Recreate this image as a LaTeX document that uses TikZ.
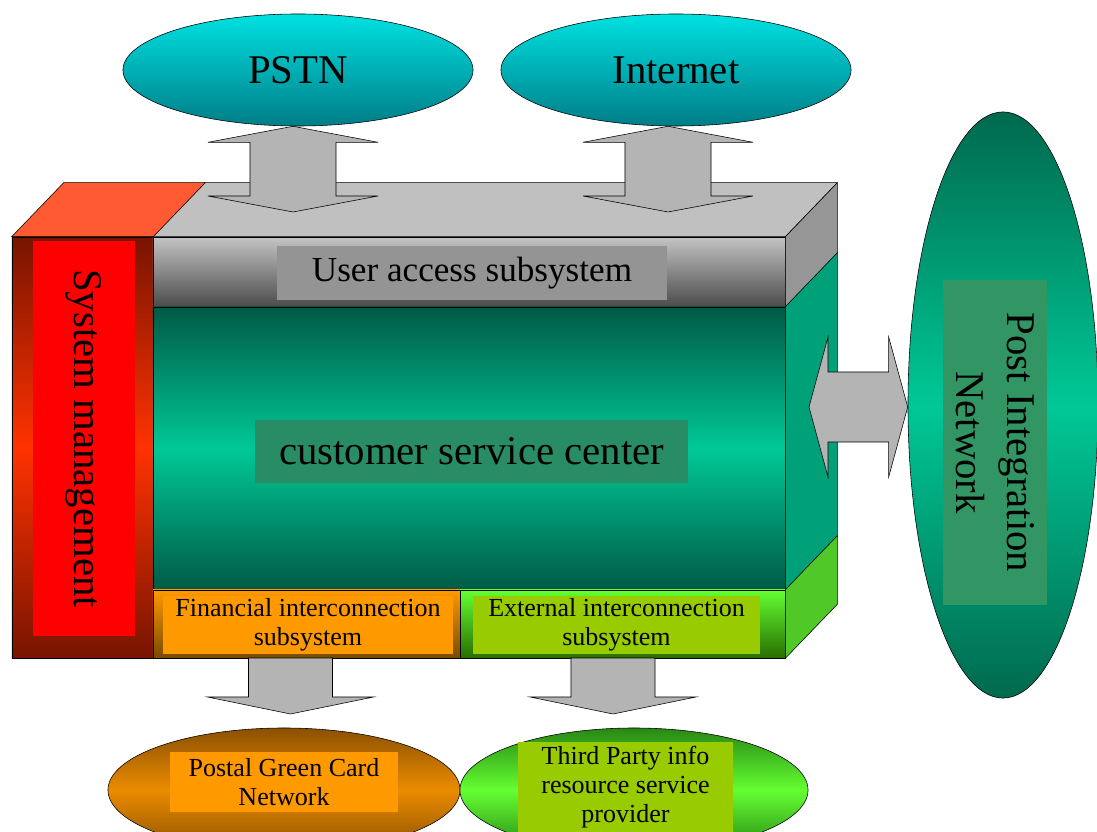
\documentclass[tikz,border=0pt]{standalone}
\usepackage{fontspec}
\setmainfont{Liberation Serif}
\usetikzlibrary{shapes.geometric,calc,positioning}
\newcommand{\px}{0.71132pt}
\definecolor{smDark}{RGB}{120,20,0}
\definecolor{smLight}{RGB}{255,50,0}
\definecolor{smTop}{RGB}{255,90,50}
\definecolor{smLabel}{RGB}{255,0,0}
\definecolor{uasLight}{RGB}{195,195,195}
\definecolor{uasDark}{RGB}{75,75,75}
\definecolor{uasTop}{RGB}{192,192,192}
\definecolor{uasSide}{RGB}{150,150,150}
\definecolor{uasLabel}{RGB}{148,148,148}
\definecolor{cscDark}{RGB}{0,90,70}
\definecolor{cscLight}{RGB}{0,200,150}
\definecolor{cscSide}{RGB}{0,160,120}
\definecolor{cscLabel}{RGB}{40,140,100}
\definecolor{finOrange}{RGB}{255,153,0}
\definecolor{finDark}{RGB}{120,75,0}
\definecolor{extLight}{RGB}{100,255,50}
\definecolor{extDark}{RGB}{40,110,0}
\definecolor{extSide}{RGB}{80,200,40}
\definecolor{extLabel}{RGB}{153,204,0}
\definecolor{netCyan}{RGB}{0,225,225}
\definecolor{netTeal}{RGB}{0,125,135}
\definecolor{pinDark}{RGB}{0,105,78}
\definecolor{pinLabel}{RGB}{50,150,100}
\definecolor{pgDark}{RGB}{140,80,0}
\definecolor{pgLight}{RGB}{235,140,0}
\definecolor{tpDark}{RGB}{40,135,20}
\definecolor{arrowGray}{RGB}{180,180,180}
\tikzset{
	boxsize/.style 2 args={minimum width=#1*\px,minimum height=#2*\px},
	face/.style={draw,thin,rectangle,inner sep=0pt},
	labelbox/.style={rectangle,inner sep=0pt,align=center},
	netoval/.style={ellipse,draw,thin,inner sep=0pt},
	bigtext/.style={font=\fontsize{29}{36}\selectfont},
	midtext/.style={font=\fontsize{25}{30}\selectfont},
	smalltext/.style={font=\fontsize{18.5}{20.5}\selectfont},
	blockarrow/.style={draw,thin,fill=arrowGray},
}
% double block arrow, vertical: top end, bottom end
\newcommand{\dblarrowV}[2]{%
	\draw[blockarrow] let \p1=#1, \p2=#2 in
		(\x1,\y1) -- (\x1+85*\px,\y1-16*\px) -- (\x1+43*\px,\y1-16*\px)
		-- (\x1+43*\px,\y2+16*\px) -- (\x1+85*\px,\y2+16*\px) -- (\x1,\y2)
		-- (\x1-85*\px,\y2+16*\px) -- (\x1-43*\px,\y2+16*\px)
		-- (\x1-43*\px,\y1-16*\px) -- (\x1-85*\px,\y1-16*\px) -- cycle;}
% double block arrow, horizontal: left end, right end
\newcommand{\dblarrowH}[2]{%
	\draw[blockarrow] let \p1=#1, \p2=#2 in
		(\x1,\y1) -- (\x1+19*\px,\y1+70*\px) -- (\x1+19*\px,\y1+35*\px)
		-- (\x2-19*\px,\y1+35*\px) -- (\x2-19*\px,\y1+70*\px) -- (\x2,\y1)
		-- (\x2-19*\px,\y1-70*\px) -- (\x2-19*\px,\y1-35*\px)
		-- (\x1+19*\px,\y1-35*\px) -- (\x1+19*\px,\y1-70*\px) -- cycle;}
% single block arrow pointing down: start, tip
\newcommand{\blockdown}[2]{%
	\draw[blockarrow] let \p1=#1, \p2=#2 in
		(\x1-42*\px,\y1) -- (\x1+42*\px,\y1) -- (\x1+42*\px,\y2+17*\px)
		-- (\x1+83*\px,\y2+17*\px) -- (\x1,\y2) -- (\x1-83*\px,\y2+17*\px)
		-- (\x1-42*\px,\y2+17*\px) -- cycle;}
\begin{document}
\begin{tikzpicture}[x=0.025cm,y=-0.025cm]
	\useasboundingbox (0,0) rectangle (1097,832);
	\clip (0,0) rectangle (1097,832);

	% networks
	\node (PSTN) at (298,70) [netoval,boxsize={350}{112},top color=netCyan,bottom color=netTeal,bigtext] {PSTN};
	\node (inet) at (676,70) [netoval,boxsize={350}{112},top color=netCyan,bottom color=netTeal,bigtext] {Internet};
	\node (pin) at (1003,405) [netoval,boxsize={190}{586},top color=pinDark,bottom color=pinDark,middle color=cscLight] {};
	\node (pinlabel) at (995,442.5) [labelbox,rotate=-90,boxsize={325}{104},fill=pinLabel,bigtext] {Post Integration\\Network};
	\node (pgcn) at (284,790) [netoval,boxsize={352}{124},top color=pgDark,bottom color=pgDark,middle color=pgLight] {};
	\node (pgcnlabel) at (284,782) [labelbox,boxsize={228}{60},fill=finOrange,smalltext] {Postal Green Card\\Network};
	\node (tpi) at (634,790) [netoval,boxsize={348}{124},top color=tpDark,bottom color=tpDark,middle color=extLight] {};
	\node (tpilabel) at (625.5,787) [labelbox,boxsize={215}{90},fill=extLabel,smalltext] {Third Party info\\resource service\\provider};

	% front faces
	\node (smfront) at (82.5,447.5) [face,boxsize={141}{421},top color=smDark,bottom color=smDark,middle color=smLight] {};
	\node (uasfront) at (469,272) [face,boxsize={632}{70},top color=uasLight,bottom color=uasDark] {};
	\node (cscfront) at (469,448.5) [face,boxsize={632}{283},top color=cscDark,bottom color=cscDark,middle color=cscLight] {};
	\node (finfront) at (306.5,624) [face,boxsize={307}{68},top color=finOrange,bottom color=finDark] {};
	\node (extfront) at (622.5,624) [face,boxsize={325}{68},top color=extLight,bottom color=extDark] {};

	% top and side faces
	\draw[thin,fill=uasTop] (uasfront.north west) -- ++(52,-54) -- ($(uasfront.north east)+(52,-54)$) -- (uasfront.north east) -- cycle;
	\draw[thin,fill=smTop] (smfront.north west) -- ++(52,-54) -- ($(smfront.north east)+(52,-54)$) -- (smfront.north east) -- cycle;
	\draw[thin,fill=uasSide] (uasfront.north east) -- ++(52,-54) -- ($(uasfront.south east)+(52,-54)$) -- (uasfront.south east) -- cycle;
	\draw[thin,fill=cscSide] (cscfront.north east) -- ++(52,-54) -- ($(cscfront.south east)+(52,-54)$) -- (cscfront.south east) -- cycle;
	\draw[thin,fill=extSide] (extfront.north east) -- ++(52,-54) -- ($(extfront.south east)+(52,-54)$) -- (extfront.south east) -- cycle;

	% labels
	\node (smlabel) at (84,438.5) [labelbox,rotate=-90,boxsize={395}{102},fill=smLabel,bigtext] {System management};
	\node (uaslabel) at (472,273) [labelbox,boxsize={390}{54},fill=uasLabel,midtext] {User access subsystem};
	\node (csclabel) at (471.5,451.5) [labelbox,boxsize={433}{63},fill=cscLabel,bigtext] {customer service center};
	\node (finlabel) at (308,625) [labelbox,boxsize={290}{58},fill=finOrange,smalltext] {Financial interconnection\\subsystem};
	\node (extlabel) at (616.5,625) [labelbox,boxsize={287}{58},fill=extLabel,smalltext] {External interconnection\\subsystem};

	% connectors
	\coordinate (pstnin) at (293,212);
	\coordinate (inetin) at (668,212);
	\coordinate (pinin) at (809,407);
	\coordinate (finout) at (290.5,658);
	\coordinate (extout) at (613,658);
	\dblarrowV{($(PSTN.south)+(-5,0)$)}{(pstnin)}
	\dblarrowV{($(inet.south)+(-8,0)$)}{(inetin)}
	\dblarrowH{(pinin)}{(pin.west)}
	\blockdown{(finout)}{($(finout)+(0,56)$)}
	\blockdown{(extout)}{($(extout)+(0,56)$)}
\end{tikzpicture}
\end{document}
